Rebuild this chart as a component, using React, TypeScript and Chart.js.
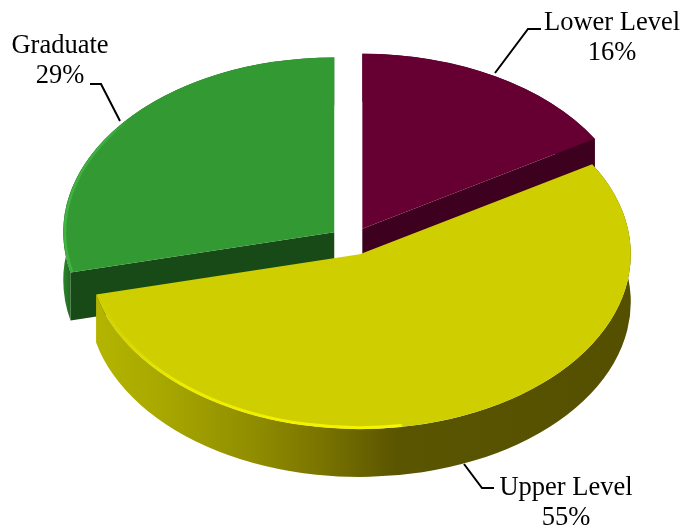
import React, { useEffect, useRef } from "react";
import { Chart, registerables } from "chart.js";

Chart.register(...registerables);

const categories = ["Lower Level", "Upper Level", "Graduate"];
const values = [16.4, 54.9, 28.7];
const printed = [16, 55, 29];
const topColors = ["#660033", "#CECE00", "#339933"];
const cutColors = ["#3D001F", "#555000", "#174A17"];

const W = 683;
const H = 529;
const RADIUS = 271;
const EXPLODE = 22;
const TILT = 0.645;
const DEPTH = 48;
const FONT = '26.5px "Liberation Serif", "Times New Roman", serif';

type LabelCfg = { cx: number; base: number; leader: [number, number][] };
const labelCfg: LabelCfg[] = [
  { cx: 612, base: 30, leader: [[541, 29], [528, 29], [495, 73]] },
  { cx: 566, base: 495, leader: [[464, 464], [482, 488], [494, 488]] },
  { cx: 60, base: 53, leader: [[90, 84], [101, 84], [120, 121]] },
];

const pie3d = {
  id: "pie3d",
  beforeDatasetsDraw(chart: any) {
    const ctx = chart.ctx;
    const arcs = chart.getDatasetMeta(0).data;
    const cy = arcs[0].y;
    const geo = (arc: any) => {
      const mid = (arc.startAngle + arc.endAngle) / 2;
      return {
        dx: Math.cos(mid) * EXPLODE,
        dy: Math.sin(mid) * EXPLODE,
        x: arc.x + Math.cos(mid) * EXPLODE,
        y: cy + Math.sin(mid) * EXPLODE * TILT,
        r: arc.outerRadius,
      };
    };
    // walls, back slices first, so the front slice covers them
    [0, 2, 1].forEach((i) => {
      const arc = arcs[i];
      const g = geo(arc);
      const ry = g.r * TILT;
      let fill: any;
      if (i === 1) {
        const grad = ctx.createLinearGradient(96, 0, 632, 0);
        grad.addColorStop(0, "#B4B400");
        grad.addColorStop(0.12, "#A8A800");
        grad.addColorStop(0.3, "#8F8C00");
        grad.addColorStop(0.42, "#7A7400");
        grad.addColorStop(0.56, "#5A5500");
        grad.addColorStop(1, "#555000");
        fill = grad;
      } else if (i === 2) {
        const grad = ctx.createLinearGradient(60, 0, 74, 0);
        grad.addColorStop(0, "#2F8F2F");
        grad.addColorStop(1, "#1E5E1E");
        fill = grad;
      } else {
        fill = cutColors[i];
      }
      ctx.save();
      ctx.fillStyle = fill;
      ctx.beginPath();
      ctx.ellipse(g.x, g.y, g.r, ry, 0, arc.startAngle, arc.endAngle);
      ctx.ellipse(g.x, g.y + DEPTH, g.r, ry, 0, arc.endAngle, arc.startAngle, true);
      ctx.closePath();
      ctx.fill();
      if (i !== 1) {
        ctx.fillStyle = cutColors[i];
        [arc.startAngle, arc.endAngle].forEach((a: number) => {
          const ex = g.x + Math.cos(a) * g.r;
          const ey = g.y + Math.sin(a) * ry;
          ctx.beginPath();
          ctx.moveTo(g.x, g.y);
          ctx.lineTo(ex, ey);
          ctx.lineTo(ex, ey + DEPTH);
          ctx.lineTo(g.x, g.y + DEPTH);
          ctx.closePath();
          ctx.fill();
        });
      }
      ctx.restore();
    });
    // the library's own arc elements draw the flattened, pulled-apart top faces
    arcs.forEach((arc: any) => {
      const g = geo(arc);
      ctx.save();
      ctx.translate(g.dx, cy + g.dy * TILT);
      ctx.scale(1, TILT);
      ctx.translate(0, -cy);
      arc.draw(ctx);
      ctx.restore();
    });

    const rim = (i: number, from: number, to: number, x0: number, x1: number, rgb: string, lw: number) => {
      const g = geo(arcs[i]);
      const r = g.r - lw / 2 - 0.5;
      const grad = ctx.createLinearGradient(x0, 0, x1, 0);
      grad.addColorStop(0, `rgba(${rgb},1)`);
      grad.addColorStop(0.7, `rgba(${rgb},0.75)`);
      grad.addColorStop(1, `rgba(${rgb},0)`);
      ctx.save();
      ctx.strokeStyle = grad;
      ctx.lineWidth = lw;
      ctx.beginPath();
      ctx.ellipse(g.x, g.y, r, r * TILT, 0, from, to);
      ctx.stroke();
      ctx.restore();
    };
    rim(1, Math.PI * 0.45, arcs[1].endAngle, 380, 96, "246,246,0", 3);
    rim(2, arcs[2].startAngle, Math.PI * 1.22, 64, 130, "66,178,66", 2.5);

    // labels and leader lines
    ctx.save();
    ctx.fillStyle = "#000";
    ctx.strokeStyle = "#000";
    ctx.lineWidth = 2;
    ctx.font = FONT;
    ctx.textAlign = "center";
    ctx.textBaseline = "alphabetic";
    categories.forEach((name, i) => {
      const c = labelCfg[i];
      ctx.fillText(name, c.cx, c.base);
      ctx.fillText(`${printed[i]}%`, c.cx, c.base + 30);
      ctx.beginPath();
      c.leader.forEach(([x, y], j) => (j ? ctx.lineTo(x, y) : ctx.moveTo(x, y)));
      ctx.stroke();
    });
    ctx.restore();
    return false; // the arcs are already drawn above
  },
};

export default function App() {
  const ref = useRef<HTMLCanvasElement>(null);
  useEffect(() => {
    const chart = new Chart(ref.current!, {
      type: "pie",
      data: {
        labels: categories,
        datasets: [
          {
            data: values,
            backgroundColor: topColors,
            borderWidth: 0,
            radius: RADIUS,
          } as any,
        ],
      },
      options: {
        responsive: false,
        animation: false,
        events: [],
        rotation: 0,
        layout: { padding: { left: 20, bottom: 47 } },
        plugins: { legend: { display: false }, tooltip: { enabled: false } },
      },
      plugins: [pie3d],
    });
    return () => chart.destroy();
  }, []);
  return (
    <div style={{ position: "absolute", left: 0, top: 0, width: W, height: H, background: "#fff" }}>
      <canvas ref={ref} width={W} height={H} style={{ display: "block" }} />
    </div>
  );
}
